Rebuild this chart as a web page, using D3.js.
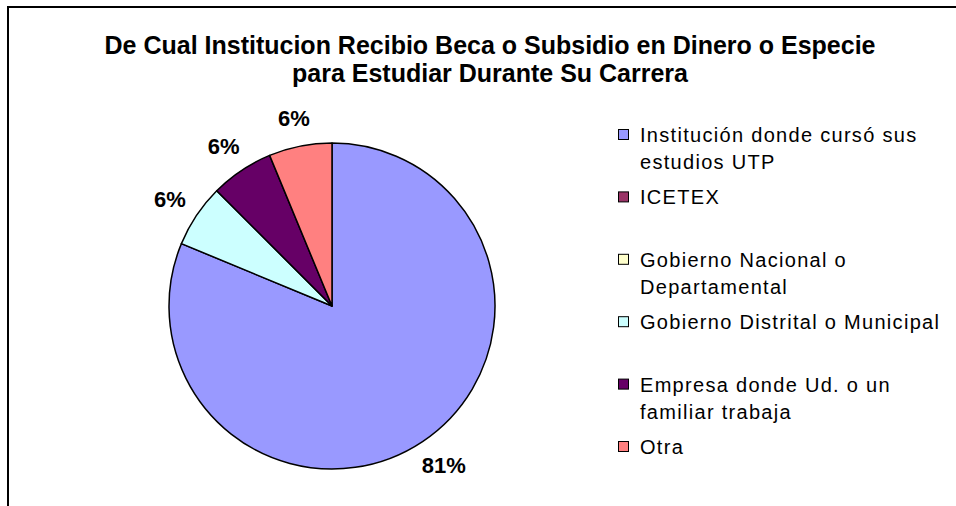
<!DOCTYPE html>
<html>
<head>
<meta charset="utf-8">
<script src="https://cdn.jsdelivr.net/npm/d3@7"></script>
<style>
  body { margin: 0; background: #fff; }
  svg { display: block; font-family: 'Liberation Sans', Arial, sans-serif; }
</style>
</head>
<body>
<div id="chart"></div>
<script>
// Data (counts out of 16)
const titleLines = [
  'De Cual Institucion Recibio Beca o Subsidio en Dinero o Especie',
  'para Estudiar Durante Su Carrera'
];
const categories = [
  'Institución donde cursó sus\nestudios UTP',
  'ICETEX',
  'Gobierno Nacional o\nDepartamental',
  'Gobierno Distrital o Municipal',
  'Empresa donde Ud. o un\nfamiliar trabaja',
  'Otra'
];
const values = [13, 0, 0, 1, 1, 1];
const colors = ['#9999FF', '#993366', '#FFFFCC', '#CCFFFF', '#660066', '#FF8080'];

const W = 956, H = 506;
const cx = 332, cy = 306, R = 163;

const svg = d3.select('#chart').append('svg')
  .attr('width', W)
  .attr('height', H);

// Chart area frame (only top and left edges are visible)
svg.append('path')
  .attr('d', `M8,${H} L8,7 L${W},7`)
  .attr('fill', 'none')
  .attr('stroke', '#000')
  .attr('stroke-width', 2);

// Title
svg.append('g')
  .selectAll('text')
  .data(titleLines)
  .enter().append('text')
  .attr('x', 490)
  .attr('y', (d, i) => 54 + i * 28)
  .attr('text-anchor', 'middle')
  .style('font-size', '25px')
  .style('font-weight', 'bold')
  .text(d => d);

const data = categories.map((c, i) => ({ name: c, value: values[i], color: colors[i] }));
const total = d3.sum(values);

const pie = d3.pie().sort(null).value(d => d.value);
const arcs = pie(data);
const arc = d3.arc().innerRadius(0).outerRadius(R);

const g = svg.append('g').attr('transform', `translate(${cx},${cy})`);

g.selectAll('path.slice')
  .data(arcs.filter(d => d.value > 0))
  .enter().append('path')
  .attr('class', 'slice')
  .attr('d', arc)
  .attr('fill', d => d.data.color)
  .attr('stroke', '#000')
  .attr('stroke-width', 1.5)
  .attr('stroke-linejoin', 'round');

// Data labels outside the pie
const pct = d3.format('.0%');
const labelR = R + 16;
const labels = g.selectAll('text.lbl')
  .data(arcs.filter(d => d.value > 0))
  .enter().append('text')
  .attr('class', 'lbl')
  .attr('text-anchor', 'middle')
  .attr('dominant-baseline', 'central')
  .style('font-size', '22px')
  .style('font-weight', 'bold')
  .text(d => pct(Math.floor(d.value / total * 100) / 100));

labels.each(function (d) {
  const a = (d.startAngle + d.endAngle) / 2;
  const bb = this.getBBox();
  const x = Math.sin(a) * labelR + Math.sin(a) * bb.width / 2;
  const y = -Math.cos(a) * labelR - Math.cos(a) * bb.height / 2;
  d3.select(this).attr('x', x).attr('y', y);
});

// Legend
const legendY = d3.scalePoint()
  .domain(d3.range(categories.length))
  .range([135, 447]);

const legend = svg.append('g')
  .selectAll('g')
  .data(data)
  .enter().append('g')
  .attr('transform', (d, i) => `translate(618,${legendY(i)})`);

legend.append('rect')
  .attr('x', 0.5)
  .attr('y', -5.5)
  .attr('width', 10)
  .attr('height', 10)
  .attr('fill', d => d.color)
  .attr('stroke', '#000')
  .attr('stroke-width', 1);

legend.append('text')
  .attr('x', 22)
  .attr('y', 7)
  .style('font-size', '20px')
  .style('letter-spacing', '1.3px')
  .selectAll('tspan')
  .data(d => d.name.split('\n'))
  .enter().append('tspan')
  .attr('x', 22)
  .attr('dy', (d, i) => i === 0 ? 0 : 27)
  .text(d => d);
</script>
</body>
</html>
